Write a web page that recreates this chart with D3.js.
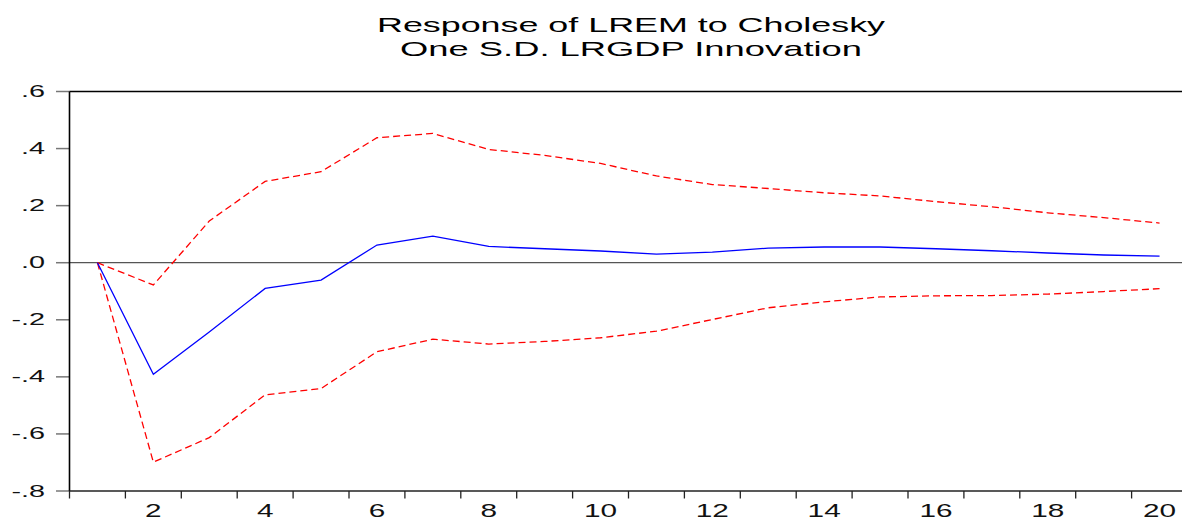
<!DOCTYPE html>
<html>
<head>
<meta charset="utf-8">
<script src="https://cdnjs.cloudflare.com/ajax/libs/d3/7.8.5/d3.min.js"></script>
<style>
  body { margin: 0; background: #fff; }
  svg { display: block; font-family: "Liberation Sans", Arial, sans-serif; }
</style>
</head>
<body>
<svg width="1182" height="518"></svg>
<script>
var titleLines = ["Response of LREM to Cholesky", "One S.D. LRGDP Innovation"];

var periods = d3.range(1, 21);
var response = [0, -0.391, -0.243, -0.090, -0.061, 0.062, 0.093, 0.057, 0.049, 0.041,
                0.030, 0.037, 0.051, 0.055, 0.055, 0.049, 0.042, 0.034, 0.027, 0.023];
var upper = [0, -0.078, 0.146, 0.285, 0.319, 0.438, 0.453, 0.397, 0.376, 0.348,
             0.304, 0.274, 0.260, 0.245, 0.234, 0.214, 0.196, 0.175, 0.158, 0.139];
var lower = [0, -0.699, -0.613, -0.463, -0.441, -0.312, -0.268, -0.285, -0.276, -0.263,
             -0.240, -0.199, -0.158, -0.137, -0.120, -0.116, -0.115, -0.110, -0.101, -0.091];

var yTicks = [0.6, 0.4, 0.2, 0.0, -0.2, -0.4, -0.6, -0.8];
var xLabels = [2, 4, 6, 8, 10, 12, 14, 16, 18, 20];

var svg = d3.select("svg");

var plotLeft = 69.5, plotTop = 91.5, plotBottom = 491;
var band = 55.9;

var x = d3.scaleLinear().domain([0.5, 20.5]).range([plotLeft, plotLeft + 20 * band]);
var y = d3.scaleLinear().domain([-0.8, 0.6]).range([plotBottom, plotTop]);

function yFmt(v) {
    var s = Math.abs(v).toFixed(1).replace(/^0/, "");
    return (v < 0 ? "-" : "") + s;
}

// title
svg.selectAll("text.title")
    .data(titleLines)
    .enter().append("text")
    .attr("class", "title")
    .attr("x", 631)
    .attr("y", function (d, i) { return 32 + i * 23.5; })
    .attr("text-anchor", "middle")
    .attr("font-size", 21)
    .attr("textLength", function (d, i) { return i === 0 ? 508 : 462; })
    .attr("lengthAdjust", "spacingAndGlyphs")
    .text(function (d) { return d; });

// zero line
svg.append("line")
    .attr("x1", plotLeft).attr("x2", 1182)
    .attr("y1", y(0)).attr("y2", y(0))
    .attr("stroke", "#555").attr("stroke-width", 1.2);

// y ticks + labels
svg.selectAll("line.ytick")
    .data(yTicks)
    .enter().append("line")
    .attr("class", "ytick")
    .attr("x1", 56).attr("x2", plotLeft)
    .attr("y1", function (d) { return y(d); })
    .attr("y2", function (d) { return y(d); })
    .attr("stroke", "#777").attr("stroke-width", 1.5);

svg.selectAll("g.ylab")
    .data(yTicks)
    .enter().append("g")
    .attr("class", "ylab")
    .attr("transform", function (d) { return "translate(45," + (y(d) + 5.5) + ") scale(1.8,1)"; })
    .append("text")
    .attr("text-anchor", "end")
    .attr("font-size", 16)
    .attr("fill", "#111")
    .text(yFmt);

// x ticks + labels
svg.selectAll("line.xtick")
    .data(d3.range(0, 21))
    .enter().append("line")
    .attr("class", "xtick")
    .attr("x1", function (d) { return x(d + 0.5); })
    .attr("x2", function (d) { return x(d + 0.5); })
    .attr("y1", plotBottom).attr("y2", plotBottom + 7.5)
    .attr("stroke", "#222").attr("stroke-width", 1.3);

svg.selectAll("g.xlab")
    .data(xLabels)
    .enter().append("g")
    .attr("class", "xlab")
    .attr("transform", function (d) { return "translate(" + x(d) + ",516.5) scale(1.7,1)"; })
    .append("text")
    .attr("text-anchor", "middle")
    .attr("font-size", 17.5)
    .attr("fill", "#111")
    .text(function (d) { return d; });

// frame
svg.append("line")
    .attr("x1", plotLeft).attr("x2", 1182).attr("y1", plotTop).attr("y2", plotTop)
    .attr("stroke", "#000").attr("stroke-width", 1.6);
svg.append("line")
    .attr("x1", plotLeft).attr("x2", plotLeft).attr("y1", plotTop).attr("y2", plotBottom)
    .attr("stroke", "#000").attr("stroke-width", 1.6);
svg.append("line")
    .attr("x1", plotLeft).attr("x2", 1182).attr("y1", plotBottom).attr("y2", plotBottom)
    .attr("stroke", "#222").attr("stroke-width", 1.6);

// series
var line = d3.line()
    .x(function (d, i) { return x(periods[i]); })
    .y(function (d) { return y(d); });

svg.append("path").datum(upper)
    .attr("d", line).attr("fill", "none")
    .attr("stroke", "#ff0000").attr("stroke-width", 1.3)
    .attr("stroke-dasharray", "7,4");

svg.append("path").datum(lower)
    .attr("d", line).attr("fill", "none")
    .attr("stroke", "#ff0000").attr("stroke-width", 1.3)
    .attr("stroke-dasharray", "7,4");

svg.append("path").datum(response)
    .attr("d", line).attr("fill", "none")
    .attr("stroke", "#0000ff").attr("stroke-width", 1.3);
</script>
</body>
</html>
